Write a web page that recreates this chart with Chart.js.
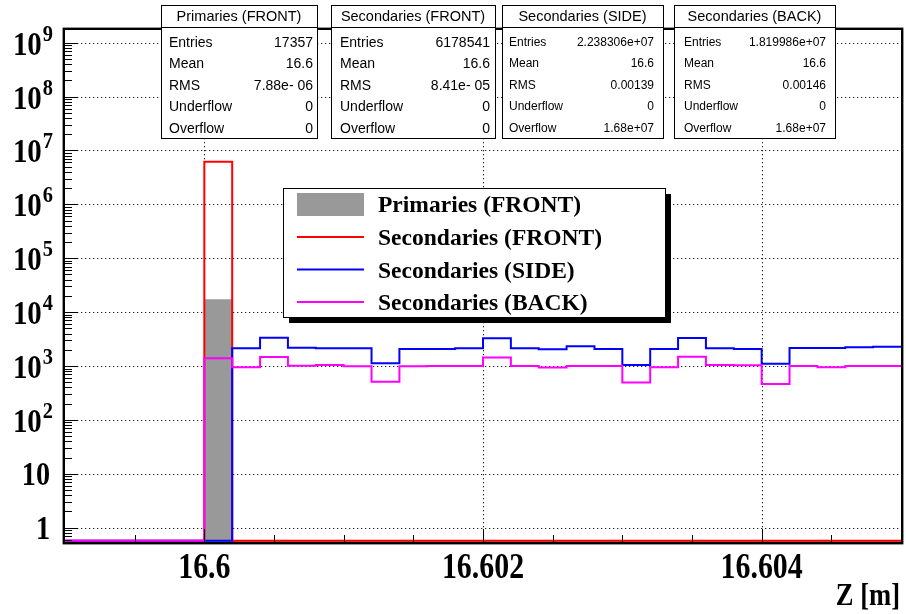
<!DOCTYPE html>
<html><head><meta charset="utf-8">
<script src="https://cdn.jsdelivr.net/npm/chart.js@4.4.0/dist/chart.umd.min.js"></script>
<style>html,body{margin:0;padding:0;background:#fff;overflow:hidden}#wrap{width:906px;height:614px}</style>
</head><body><div id="wrap"><canvas id="c" width="906" height="614"></canvas></div>
<script>
// ---------- data ----------
const binEdges = [16.599,16.5992,16.5994,16.5996,16.5998,16.6,16.6002,16.6004,16.6006,16.6008,
  16.601,16.6012,16.6014,16.6016,16.6018,16.602,16.6022,16.6024,16.6026,16.6028,
  16.603,16.6032,16.6034,16.6036,16.6038,16.604,16.6042,16.6044,16.6046,16.6048,16.605];
const primariesFront   = [0,0,0,0,0,17357,0,0,0,0, 0,0,0,0,0,0,0,0,0,0, 0,0,0,0,0,0,0,0,0,0];
const secondariesFront = [0,0,0,0,0,6178541,0,0,0,0, 0,0,0,0,0,0,0,0,0,0, 0,0,0,0,0,0,0,0,0,0];
const secondariesSide  = [0,0,0,0,0,0,2130,3350,2185,2130, 2130,1122,2067,2067,2130,3266,2130,2050,2340,2067,
  1044,2067,3310,2130,2067,1104,2155,2155,2223,2280];
const secondariesBack  = [0,0,0,0,0,1390,946,1470,1013,1040, 994,512,994,1000,1000,1440,1005,940,1000,1005,
  495,950,1480,1040,1030,464,997,946,997,997];
const seriesNames = ['Primaries (FRONT)','Secondaries (FRONT)','Secondaries (SIDE)','Secondaries (BACK)'];
const xMajorTicks = [16.6, 16.602, 16.604];
const xTickLabels = ['16.6', '16.602', '16.604'];
const xMinorTicks = [16.5995, 16.6005, 16.601, 16.6015, 16.6025, 16.603, 16.6035, 16.6045];
const yDecades = [1, 10, 1e2, 1e3, 1e4, 1e5, 1e6, 1e7, 1e8, 1e9];
const yTickBase = ['1', '10', '10', '10', '10', '10', '10', '10', '10', '10'];
const yTickExp  = ['', '', '2', '3', '4', '5', '6', '7', '8', '9'];
const xTitle = 'Z [m]';
const statTitles = ['Primaries (FRONT)', 'Secondaries (FRONT)', 'Secondaries (SIDE)', 'Secondaries (BACK)'];
const statLabels = ['Entries', 'Mean', 'RMS', 'Underflow', 'Overflow'];
const statValues = [
  ['17357', '16.6', '7.88e- 06', '0', '0'],
  ['6178541', '16.6', '8.41e- 05', '0', '0'],
  ['2.238306e+07', '16.6', '0.00139', '0', '1.68e+07'],
  ['1.819986e+07', '16.6', '0.00146', '0', '1.68e+07']
];
const X_MIN = 16.599, X_MAX = 16.605, Y_MIN = 0.543, Y_MAX = 1.72e9;

// ---------- styles ----------
const COLORS = ['#999999', '#ff0000', '#0000ff', '#ff00ff'];
const SERIF = '"Liberation Serif", "Times New Roman", serif';
const SANS = '"Liberation Sans", Arial, Helvetica, sans-serif';
const zeroShow = Y_MIN * 1.05; // empty bins sit on the frame bottom

function stepPoints(vals) {
  const pts = vals.map((v, i) => ({x: binEdges[i], y: v > 0 ? v : zeroShow}));
  const last = vals[vals.length - 1];
  pts.push({x: binEdges[binEdges.length - 1], y: last > 0 ? last : zeroShow});
  return pts;
}

function drawText(ctx, txt, x, y, font, align, sx) {
  ctx.save();
  ctx.font = font;
  ctx.textBaseline = 'alphabetic';
  ctx.translate(x, y);
  ctx.scale(sx || 1, 1);
  ctx.textAlign = align || 'left';
  ctx.fillStyle = '#000';
  ctx.fillText(txt, 0, 0);
  ctx.restore();
}

const rootPlugin = {
  id: 'rootDecor',
  beforeDatasetsDraw(chart) {
    const {ctx, chartArea: a, scales: {x, y}} = chart;
    ctx.save();
    ctx.strokeStyle = '#222';
    ctx.lineWidth = 1;
    ctx.setLineDash([1.3, 2.7]);
    yDecades.forEach(v => {
      const py = Math.round(y.getPixelForValue(v)) + 0.5;
      ctx.beginPath(); ctx.moveTo(a.left, py); ctx.lineTo(a.right, py); ctx.stroke();
    });
    xMajorTicks.forEach(v => {
      const px = Math.round(x.getPixelForValue(v)) + 0.5;
      ctx.beginPath(); ctx.moveTo(px, a.top); ctx.lineTo(px, a.bottom); ctx.stroke();
    });
    ctx.restore();
  },
  afterDatasetsDraw(chart) {
    const {ctx, chartArea: a, scales: {x, y}} = chart;
    ctx.save();
    // ticks
    ctx.strokeStyle = '#000'; ctx.lineWidth = 1;
    const tick = (x0, y0, x1, y1) => { ctx.beginPath(); ctx.moveTo(x0, y0); ctx.lineTo(x1, y1); ctx.stroke(); };
    yDecades.forEach(v => { const py = Math.round(y.getPixelForValue(v)) + 0.5; tick(a.left, py, a.left + 13, py); });
    for (let e = -1; e < 10; e++) {
      for (let k = 2; k <= 9; k++) {
        const v = k * Math.pow(10, e);
        if (v < Y_MIN || v > Y_MAX) continue;
        const py = Math.round(y.getPixelForValue(v)) + 0.5;
        tick(a.left, py, a.left + 7, py);
      }
    }
    xMajorTicks.forEach(v => { const px = Math.round(x.getPixelForValue(v)) + 0.5; tick(px, a.bottom, px, a.bottom - 13); });
    xMinorTicks.forEach(v => { const px = Math.round(x.getPixelForValue(v)) + 0.5; tick(px, a.bottom, px, a.bottom - 7); });
    // frame
    ctx.lineWidth = 2.4;
    ctx.strokeRect(a.left - 1.2, a.top - 1.2, a.right - a.left + 2.4, a.bottom - a.top + 2.4);
    ctx.restore();

    // axis labels
    xMajorTicks.forEach((v, i) => {
      drawText(ctx, xTickLabels[i], x.getPixelForValue(v), 578, 'bold 36px ' + SERIF, 'center', 0.83);
    });
    yDecades.forEach((v, i) => {
      const py = y.getPixelForValue(v);
      const baseFont = 'bold 34px ' + SERIF, expFont = 'bold 24px ' + SERIF;
      ctx.save();
      if (yTickExp[i]) {
        ctx.font = expFont; const we = ctx.measureText(yTickExp[i]).width * 0.85;
        const right = a.left - 12;
        drawText(ctx, yTickExp[i], right - we, py - 2, expFont, 'left', 0.85);
        drawText(ctx, yTickBase[i], right - we - 1, py + 12, baseFont, 'right', 0.85);
      } else {
        drawText(ctx, yTickBase[i], a.left - 15, py + 11, baseFont, 'right', 0.83);
      }
      ctx.restore();
    });
    drawText(ctx, xTitle, 900, 605, 'bold 32px ' + SERIF, 'right', 0.83);
  },
  afterDraw(chart) {
    const {ctx} = chart;
    // stat boxes
    const boxes = [
      {x: 161, w: 156, fs: 14, lp: 8, rp: 4},
      {x: 331, w: 164, fs: 14, lp: 9, rp: 5},
      {x: 502, w: 161, fs: 12, lp: 7, rp: 9},
      {x: 674, w: 161, fs: 12, lp: 10, rp: 9}
    ];
    boxes.forEach((b, bi) => {
      const top = 5, h = 133, hh = 22;
      ctx.save();
      ctx.fillStyle = '#fff'; ctx.fillRect(b.x, top, b.w, h);
      ctx.strokeStyle = '#000'; ctx.lineWidth = 1;
      ctx.strokeRect(b.x + 0.5, top + 0.5, b.w, h);
      ctx.beginPath(); ctx.moveTo(b.x, top + hh + 0.5); ctx.lineTo(b.x + b.w, top + hh + 0.5); ctx.stroke();
      ctx.restore();
      drawText(ctx, statTitles[bi], b.x + b.w / 2, top + 16, '14.5px ' + SANS, 'center');
      statLabels.forEach((l, r) => {
        const cy = 41.5 + 21.5 * r + b.fs * 0.36;
        drawText(ctx, l, b.x + b.lp, cy, b.fs + 'px ' + SANS, 'left');
        drawText(ctx, statValues[bi][r], b.x + b.w - b.rp, cy, b.fs + 'px ' + SANS, 'right');
      });
    });
    // legend
    const L = {x: 283, y: 188, w: 382, h: 129, sh: 6};
    ctx.save();
    ctx.fillStyle = '#000';
    ctx.fillRect(L.x + L.sh, L.y + L.sh, L.w, L.h);
    ctx.fillStyle = '#fff';
    ctx.fillRect(L.x, L.y, L.w, L.h);
    ctx.strokeStyle = '#000'; ctx.lineWidth = 1;
    ctx.strokeRect(L.x + 0.5, L.y + 0.5, L.w, L.h);
    const rowsY = [204, 237, 269.5, 302];
    seriesNames.forEach((n, i) => {
      if (i === 0) {
        ctx.fillStyle = COLORS[0];
        ctx.fillRect(297, 193, 67, 23);
      } else {
        ctx.strokeStyle = COLORS[i]; ctx.lineWidth = 2;
        ctx.beginPath(); ctx.moveTo(297, rowsY[i]); ctx.lineTo(364, rowsY[i]); ctx.stroke();
      }
      drawText(ctx, n, 378, rowsY[i] + 8, 'bold 24px ' + SERIF, 'left', 0.98);
    });
    ctx.restore();
  }
};

const ds = [
  {label: seriesNames[0], data: stepPoints(primariesFront), backgroundColor: COLORS[0], borderColor: COLORS[0], borderWidth: 0, fill: 'start', order: 3},
  {label: seriesNames[1], data: stepPoints(secondariesFront), borderColor: COLORS[1], borderWidth: 2, fill: false, order: 2},
  {label: seriesNames[2], data: stepPoints(secondariesSide), borderColor: COLORS[2], borderWidth: 2, fill: false, order: 1},
  {label: seriesNames[3], data: stepPoints(secondariesBack), borderColor: COLORS[3], borderWidth: 2, fill: false, order: 0}
].map(d => Object.assign({stepped: 'before', pointRadius: 0, tension: 0}, d));

new Chart(document.getElementById('c'), {
  type: 'line',
  data: {datasets: ds},
  options: {
    responsive: false, animation: false, devicePixelRatio: 1,
    layout: {padding: {left: 65, top: 30, right: 5, bottom: 72}},
    plugins: {legend: {display: false}, tooltip: {enabled: false}},
    scales: {
      x: {type: 'linear', min: X_MIN, max: X_MAX, display: false},
      y: {type: 'logarithmic', min: Y_MIN, max: Y_MAX, display: false}
    }
  },
  plugins: [rootPlugin]
});
</script>
</body></html>
